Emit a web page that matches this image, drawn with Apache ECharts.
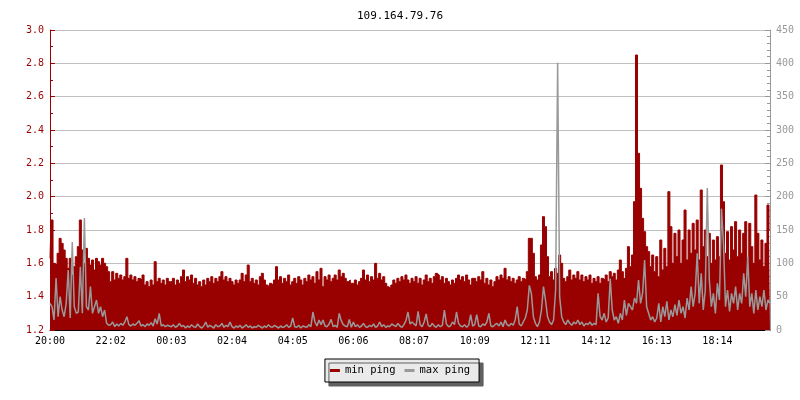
<!DOCTYPE html>
<html><head><meta charset="utf-8">
<script src="https://cdn.jsdelivr.net/npm/echarts@6/dist/echarts.min.js"></script>
<style>html,body{margin:0;padding:0;background:#fff}#c{width:800px;height:400px}</style>
</head><body><div id="c"></div>
<script>
const chartTitle = '109.164.79.76';
const seriesNames = ['min ping', 'max ping'];
const tickLabels = ['20:00','22:02','00:03','02:04','04:05','06:06','08:07','10:09','12:11','14:12','16:13','18:14'];
const pointsPerTick = 30;
const leftTicks = { min: 1.2, max: 3.0, step: 0.2 };
const rightTicks = { min: 0, max: 450, step: 50 };

const minPing = [
1.63,1.86,1.60,1.59,1.66,1.75,1.72,1.68,1.63,1.57,1.63,1.53,1.58,1.64,1.70,1.86,1.68,1.60,1.69,1.63,1.59,1.62,1.56,1.63,1.61,1.59,1.63,1.60,1.58,1.55,
1.49,1.55,1.50,1.54,1.51,1.53,1.50,1.52,1.63,1.51,1.53,1.50,1.52,1.49,1.51,1.50,1.53,1.47,1.49,1.46,1.50,1.47,1.61,1.49,1.51,1.48,1.50,1.47,1.51,1.49,
1.49,1.51,1.47,1.50,1.48,1.52,1.56,1.49,1.52,1.50,1.53,1.48,1.51,1.47,1.49,1.46,1.50,1.47,1.51,1.49,1.52,1.48,1.51,1.49,1.52,1.55,1.50,1.52,1.49,1.51,
1.49,1.47,1.50,1.48,1.50,1.54,1.49,1.53,1.59,1.49,1.51,1.48,1.50,1.47,1.52,1.54,1.50,1.47,1.46,1.48,1.47,1.50,1.58,1.50,1.52,1.48,1.51,1.49,1.53,1.47,
1.49,1.51,1.48,1.52,1.50,1.47,1.51,1.49,1.53,1.50,1.52,1.48,1.55,1.50,1.57,1.46,1.52,1.50,1.53,1.49,1.51,1.53,1.50,1.56,1.52,1.54,1.51,1.49,1.50,1.48,
1.48,1.50,1.47,1.49,1.51,1.56,1.50,1.53,1.49,1.52,1.50,1.60,1.51,1.54,1.50,1.52,1.48,1.46,1.45,1.47,1.50,1.48,1.51,1.49,1.52,1.50,1.53,1.50,1.48,1.51,
1.49,1.52,1.48,1.51,1.47,1.50,1.53,1.49,1.51,1.48,1.52,1.54,1.53,1.50,1.52,1.48,1.51,1.49,1.47,1.50,1.48,1.51,1.53,1.50,1.52,1.49,1.53,1.50,1.47,1.51,
1.51,1.49,1.52,1.50,1.55,1.48,1.51,1.47,1.50,1.46,1.49,1.52,1.50,1.53,1.51,1.57,1.50,1.52,1.49,1.51,1.48,1.50,1.52,1.49,1.51,1.50,1.55,1.75,1.75,1.66,
1.52,1.50,1.53,1.71,1.88,1.82,1.64,1.52,1.55,1.50,1.57,1.54,1.65,1.60,1.51,1.49,1.52,1.56,1.50,1.53,1.51,1.55,1.50,1.53,1.49,1.52,1.50,1.53,1.48,1.51,
1.49,1.52,1.48,1.51,1.50,1.53,1.49,1.55,1.52,1.54,1.50,1.56,1.62,1.55,1.51,1.57,1.70,1.58,1.65,1.97,2.85,2.26,2.05,1.87,1.79,1.70,1.67,1.58,1.65,1.55,
1.64,1.52,1.74,1.56,1.69,1.58,2.03,1.82,1.60,1.78,1.64,1.80,1.60,1.74,1.92,1.62,1.80,1.66,1.84,1.68,1.86,1.62,2.04,1.70,1.80,1.64,1.78,1.60,1.74,1.62,
1.76,1.64,2.19,1.97,1.66,1.79,1.62,1.82,1.68,1.85,1.64,1.80,1.66,1.78,1.85,1.62,1.84,1.70,1.60,2.01,1.78,1.62,1.74,1.58,1.72,1.95,1.80
];

const maxPing = [
40,35,15,78,20,50,30,20,40,90,18,132,35,25,27,95,25,168,35,30,65,25,35,45,25,35,20,30,10,7,
8,12,5,9,6,10,7,12,20,8,6,9,7,10,14,6,8,5,9,7,11,6,17,9,25,6,8,5,7,6,
5,8,4,6,10,5,7,3,6,4,8,5,4,9,5,3,6,12,4,7,5,3,8,5,6,10,4,7,5,12,
5,3,6,4,7,3,5,8,4,6,3,5,4,7,5,3,6,4,8,5,4,7,5,3,6,4,5,8,4,6,
18,5,4,7,3,6,5,4,8,5,27,12,6,15,8,15,6,5,9,16,5,7,4,25,14,8,6,5,16,4,
12,5,8,4,6,10,5,4,7,5,9,4,6,12,5,8,4,6,5,9,7,5,10,6,4,8,14,27,9,12,
9,6,28,8,5,12,24,7,5,10,6,4,8,5,7,30,9,5,6,12,8,27,10,6,5,8,4,7,23,6,
8,23,6,5,9,7,12,25,6,5,8,10,6,12,5,15,8,6,10,7,15,35,9,6,12,18,30,67,55,20,
10,5,12,30,65,45,20,12,8,15,60,401,50,20,12,8,15,10,7,12,9,15,8,12,6,10,8,12,7,10,
8,55,20,15,25,12,18,77,30,15,20,10,25,15,45,22,40,35,30,48,40,75,40,55,105,35,25,15,20,12,
18,40,12,35,20,43,15,30,20,38,22,45,25,35,18,48,30,65,35,55,115,40,85,30,60,213,75,35,55,25,
70,45,182,130,35,60,28,55,40,65,30,55,40,85,50,110,35,55,25,60,30,50,35,60,30,45,40
];

const categories = minPing.map((_, i) => (i % pointsPerTick === 0 ? (tickLabels[i / pointsPerTick] || '') : ''));

const MONO = '"DejaVu Sans Mono", monospace';
const RED = '#990000';
const GRAY = '#999999';

const chart = echarts.init(document.getElementById('c'), null, { renderer: 'canvas' });
chart.setOption({
  animation: false,
  backgroundColor: '#ffffff',
  title: {
    text: chartTitle, left: 'center', top: 6,
    textStyle: { fontFamily: MONO, fontSize: 11, fontWeight: 'normal', color: '#000' }
  },
  legend: {
    data: seriesNames, left: 'center', top: 359,
    icon: 'rect', itemWidth: 10, itemHeight: 3, itemGap: 9,
    padding: [6, 9, 6, 5],
    backgroundColor: '#eaeaea', borderColor: '#000', borderWidth: 1,
    shadowColor: '#606060', shadowOffsetX: 4, shadowOffsetY: 4, shadowBlur: 0,
    textStyle: { fontFamily: MONO, fontSize: 10.5, color: '#000' }
  },
  grid: { left: 50, right: 30, top: 30, bottom: 70 },
  xAxis: {
    type: 'category', data: categories, boundaryGap: false,
    axisLine: { show: true, lineStyle: { color: '#000', width: 1 } },
    axisTick: { show: true, inside: true, length: 4, interval: pointsPerTick - 1, lineStyle: { color: '#000' } },
    axisLabel: { interval: pointsPerTick - 1, margin: 6, fontFamily: MONO, fontSize: 10, color: '#000' },
    splitLine: { show: false }
  },
  yAxis: [
    {
      type: 'value', position: 'left', min: leftTicks.min, max: leftTicks.max, interval: leftTicks.step,
      axisLine: { show: true, lineStyle: { color: RED } },
      axisTick: { show: true, inside: true, length: 5, lineStyle: { color: RED } },
      minorTick: { show: true, splitNumber: 2, length: 3, lineStyle: { color: RED } },
      axisLabel: { margin: 6, fontFamily: MONO, fontSize: 10, color: RED, formatter: v => v.toFixed(1) },
      splitLine: { show: true, lineStyle: { color: '#c0c0c0', width: 1 } }
    },
    {
      type: 'value', position: 'right', min: rightTicks.min, max: rightTicks.max, interval: rightTicks.step,
      axisLine: { show: true, lineStyle: { color: GRAY } },
      axisTick: { show: true, inside: true, length: 5, lineStyle: { color: GRAY } },
      minorTick: { show: true, splitNumber: 5, length: 3, lineStyle: { color: GRAY } },
      axisLabel: { margin: 6, fontFamily: MONO, fontSize: 10, color: GRAY },
      splitLine: { show: false }
    }
  ],
  series: [
    {
      name: seriesNames[0], type: 'line', yAxisIndex: 0, data: minPing,
      step: 'middle', showSymbol: false, symbol: 'none',
      lineStyle: { color: RED, width: 1 },
      itemStyle: { color: RED },
      areaStyle: { color: RED, opacity: 1, origin: 'start' },
      z: 2
    },
    {
      name: seriesNames[1], type: 'line', yAxisIndex: 1, data: maxPing,
      showSymbol: false, symbol: 'none',
      lineStyle: { color: GRAY, width: 1.5 },
      itemStyle: { color: GRAY },
      z: 3
    }
  ]
});
</script>
</body></html>
